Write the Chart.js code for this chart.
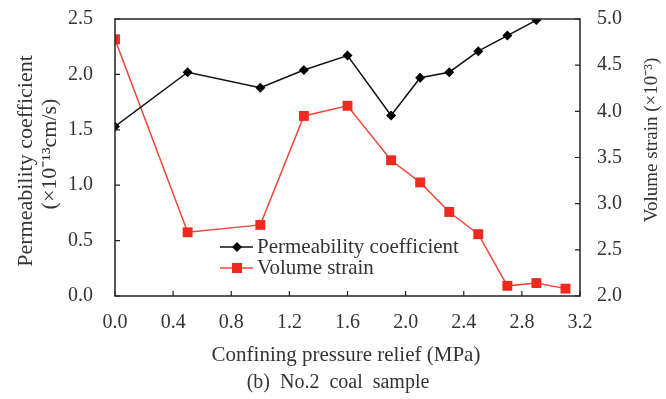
<!DOCTYPE html>
<html>
<head>
<meta charset="utf-8">
<script src="https://cdn.jsdelivr.net/npm/chart.js@4/dist/chart.umd.min.js"></script>
<style>
html,body{margin:0;padding:0;background:#fff;}
#c{display:block;}
</style>
</head>
<body>
<canvas id="c" width="666" height="399"></canvas>
<script>
const pressure = [0, 0.5, 1.0, 1.3, 1.6, 1.9, 2.1, 2.3, 2.5, 2.7, 2.9, 3.1];
const permeability = [1.53, 2.02, 1.88, 2.04, 2.17, 1.63, 1.97, 2.02, 2.21, 2.35, 2.49];
const volumeStrain = [4.78, 2.69, 2.77, 3.95, 4.06, 3.47, 3.23, 2.91, 2.67, 2.11, 2.14, 2.08];
const seriesNames = ['Permeability coefficient', 'Volume strain'];
const xTitle = 'Confining pressure relief (MPa)';
const yTitleLines = ['Permeability coefficient', '(×10⁻¹³cm/s)'];
const y1Title = 'Volume strain (×10⁻³)';
const caption = '(b)  No.2  coal  sample';

const FONT = '"Liberation Serif", "Times New Roman", serif';
const TXT = '#333';
const AX = '#222';
const RED = '#ee2a1f';

const decorPlugin = {
  id: 'decor',
  afterDraw(chart) {
    const ctx = chart.ctx;
    const a = chart.chartArea;
    const sx = chart.scales.x, sy = chart.scales.y, sy1 = chart.scales.y1;
    ctx.save();
    // frame
    ctx.strokeStyle = AX; ctx.lineWidth = 1.5;
    ctx.strokeRect(a.left, a.top, a.right - a.left, a.bottom - a.top);
    // inward ticks
    ctx.lineWidth = 1.2;
    ctx.beginPath();
    sx.ticks.forEach(t => { const p = sx.getPixelForValue(t.value); ctx.moveTo(p, a.bottom); ctx.lineTo(p, a.bottom - 5); });
    sy.ticks.forEach(t => { const p = sy.getPixelForValue(t.value); ctx.moveTo(a.left, p); ctx.lineTo(a.left + 5, p); });
    sy1.ticks.forEach(t => { const p = sy1.getPixelForValue(t.value); ctx.moveTo(a.right, p); ctx.lineTo(a.right - 5, p); });
    ctx.stroke();
    // titles
    ctx.fillStyle = TXT;
    ctx.textAlign = 'center'; ctx.textBaseline = 'middle';
    ctx.font = '21px ' + FONT;
    ctx.fillText(xTitle, 346, 355);
    ctx.font = '20px ' + FONT;
    ctx.fillText(caption, 338, 383);
    // left title
    ctx.font = '22px ' + FONT;
    ctx.save(); ctx.translate(26, 161); ctx.rotate(-Math.PI / 2); ctx.fillText(yTitleLines[0], 0, 0); ctx.restore();
    ctx.save(); ctx.translate(50, 154); ctx.rotate(-Math.PI / 2); ctx.fillText(yTitleLines[1], 0, 0); ctx.restore();
    ctx.font = '19px ' + FONT;
    ctx.save(); ctx.translate(652, 140); ctx.rotate(-Math.PI / 2); ctx.fillText(y1Title, 0, 0); ctx.restore();
    // legend
    const lx = a.left + 105, ly = [247, 268];
    const ds = chart.data.datasets;
    ds.forEach((d, i) => {
      ctx.strokeStyle = d.borderColor; ctx.lineWidth = 1.5;
      ctx.beginPath(); ctx.moveTo(lx, ly[i]); ctx.lineTo(lx + 33, ly[i]); ctx.stroke();
      ctx.fillStyle = d.pointBackgroundColor;
      const cx = lx + 17;
      if (i === 0) {
        ctx.beginPath(); ctx.moveTo(cx, ly[i] - 5); ctx.lineTo(cx + 5, ly[i]); ctx.lineTo(cx, ly[i] + 5); ctx.lineTo(cx - 5, ly[i]); ctx.closePath(); ctx.fill();
      } else {
        ctx.fillRect(cx - 5, ly[i] - 5, 10, 10);
      }
      ctx.fillStyle = TXT; ctx.textAlign = 'left'; ctx.font = '21px ' + FONT;
      ctx.fillText(d.label, lx + 37, ly[i]);
    });
    ctx.restore();
  }
};

const fitY = w => s => { s.width = w; s.paddingTop = 0; s.paddingBottom = 0; };

new Chart(document.getElementById('c'), {
  type: 'line',
  data: {
    datasets: [
      {
        label: seriesNames[0],
        data: permeability.map((v, i) => ({ x: pressure[i], y: v })),
        yAxisID: 'y',
        borderColor: '#111', backgroundColor: '#111', pointBackgroundColor: '#000', pointBorderColor: '#000',
        borderWidth: 1.5, pointStyle: 'rectRot', pointRadius: 5, pointBorderWidth: 0, tension: 0
      },
      {
        label: seriesNames[1],
        data: volumeStrain.map((v, i) => ({ x: pressure[i], y: v })),
        yAxisID: 'y1',
        borderColor: '#f2463a', backgroundColor: RED, pointBackgroundColor: RED, pointBorderColor: RED,
        borderWidth: 1.5, pointStyle: 'rect', pointRadius: 7, pointBorderWidth: 0, tension: 0
      }
    ]
  },
  options: {
    responsive: false,
    animation: false,
    layout: { padding: { top: 19, bottom: 0, left: 0, right: 0 } },
    plugins: { legend: { display: false }, tooltip: { enabled: false } },
    scales: {
      x: {
        type: 'linear', min: 0, max: 3.2,
        grid: { display: false, drawTicks: false },
        border: { display: false },
        ticks: { stepSize: 0.4, color: TXT, font: { family: FONT, size: 20 }, padding: 15, maxRotation: 0,
          callback: v => v.toFixed(1) },
        afterFit: s => { s.height = 103; s.paddingLeft = 0; s.paddingRight = 0; }
      },
      y: {
        position: 'left', min: 0, max: 2.5,
        grid: { display: false, drawTicks: false },
        border: { display: false },
        ticks: { stepSize: 0.5, color: TXT, font: { family: FONT, size: 20 }, padding: 22,
          callback: v => v.toFixed(1) },
        afterFit: fitY(115)
      },
      y1: {
        position: 'right', min: 2, max: 5,
        grid: { display: false, drawTicks: false },
        border: { display: false },
        ticks: { stepSize: 0.5, color: TXT, font: { family: FONT, size: 20 }, padding: 17,
          callback: v => v.toFixed(1) },
        afterFit: fitY(86)
      }
    }
  },
  plugins: [decorPlugin]
});
</script>
</body>
</html>
